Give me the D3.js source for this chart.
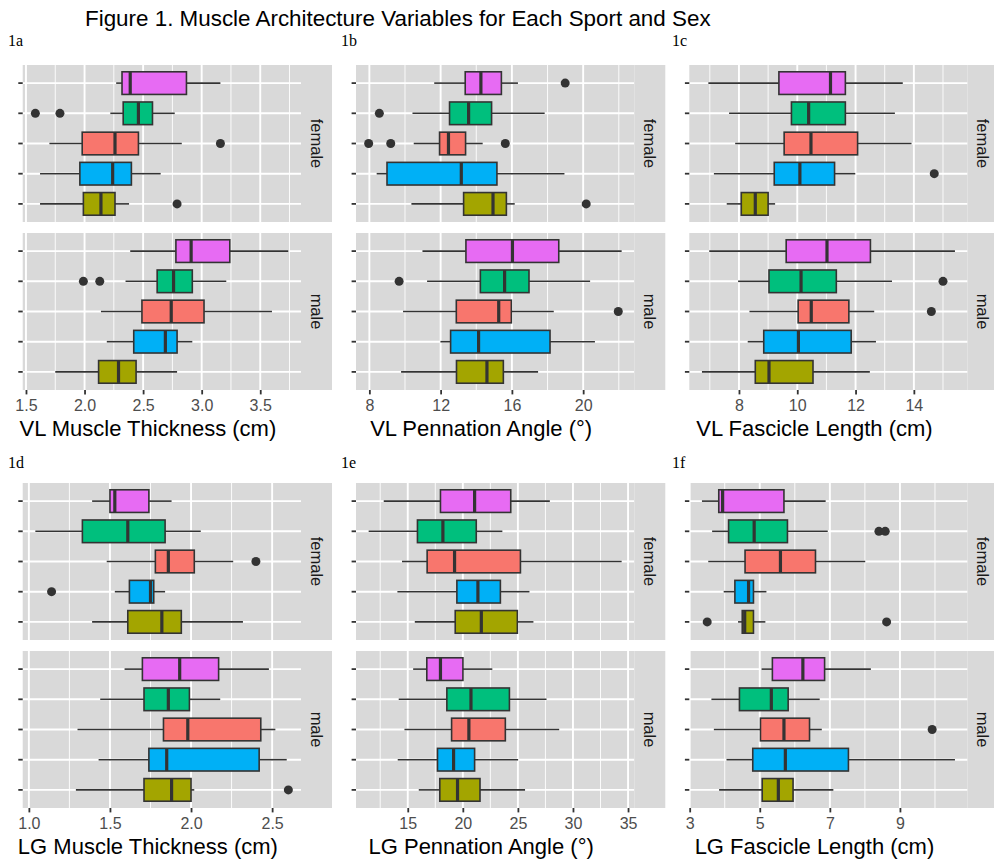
<!DOCTYPE html>
<html>
<head>
<meta charset="utf-8">
<script src="https://cdn.jsdelivr.net/npm/d3@7"></script>
<style>
  body { margin: 0; background: #ffffff; }
  svg { display: block; }
</style>
</head>
<body>
<svg id="chart" width="994" height="860"></svg>
<script>
// Sport groups, listed from the bottom row of each facet to the top row
const groups = ["G1", "G2", "G3", "G4", "G5"];
const groupFill = ["#A3A500", "#00B0F6", "#F8766D", "#00BF7D", "#E76BF3"];
const facets = ["female", "male"];

// Box summaries per group: [lower whisker, Q1, median, Q3, upper whisker]
// Outliers per group in the matching *Out arrays

// VL muscle thickness (cm)
const vlThickFemale = [[1.62, 1.99, 2.14, 2.26, 2.38], [1.62, 1.96, 2.24, 2.40, 2.65], [1.70, 1.98, 2.26, 2.46, 2.83], [2.22, 2.33, 2.46, 2.58, 2.77], [2.27, 2.32, 2.39, 2.87, 3.16]];
const vlThickFemaleOut = [[2.79], [], [3.16], [1.58, 1.79], []];
const vlThickMale = [[1.75, 2.12, 2.29, 2.44, 2.79], [2.19, 2.42, 2.69, 2.79, 2.92], [2.14, 2.49, 2.74, 3.02, 3.60], [2.35, 2.62, 2.76, 2.92, 3.21], [2.39, 2.78, 2.91, 3.24, 3.74]];
const vlThickMaleOut = [[], [], [], [1.99, 2.13], []];
const vlThickTicks = [1.5, 2.0, 2.5, 3.0, 3.5];

// VL pennation angle (degrees)
const vlPennFemale = [[10.36, 13.29, 14.94, 15.69, 16.16], [8.41, 8.99, 13.16, 15.16, 18.95], [10.49, 11.94, 12.44, 13.40, 14.36], [10.42, 12.50, 13.57, 14.86, 17.84], [11.64, 13.38, 14.26, 15.41, 16.34]];
const vlPennFemaleOut = [[20.17], [], [7.96, 9.20, 15.63], [8.56], [18.99]];
const vlPennMale = [[9.78, 12.89, 14.60, 15.52, 17.47], [11.99, 12.56, 14.13, 18.14, 20.66], [9.89, 12.88, 15.26, 15.97, 18.35], [11.24, 14.23, 15.59, 16.96, 20.39], [10.98, 13.42, 16.03, 18.63, 22.16]];
const vlPennMaleOut = [[], [], [21.97], [9.67], []];
const vlPennTicks = [8, 12, 16, 20];

// VL fascicle length (cm)
const vlFascFemale = [[7.58, 8.08, 8.56, 9.00, 9.24], [7.14, 9.21, 10.09, 11.28, 11.99], [7.87, 9.55, 10.47, 12.07, 13.92], [7.66, 9.80, 10.39, 11.65, 13.35], [6.95, 9.37, 11.14, 11.65, 13.62]];
const vlFascFemaleOut = [[], [14.70], [], [], []];
const vlFascMale = [[6.73, 8.56, 9.03, 10.54, 12.49], [8.30, 8.85, 10.04, 11.85, 12.70], [8.36, 10.03, 10.48, 11.77, 12.64], [7.97, 9.03, 10.13, 11.34, 13.25], [6.98, 9.62, 11.02, 12.51, 15.41]];
const vlFascMaleOut = [[], [], [14.60], [15.00], []];
const vlFascTicks = [8, 10, 12, 14];

// LG muscle thickness (cm)
const lgThickFemale = [[1.39, 1.61, 1.82, 1.94, 2.32], [1.53, 1.62, 1.75, 1.77, 1.84], [1.48, 1.78, 1.86, 2.02, 2.26], [1.04, 1.33, 1.61, 1.84, 2.06], [1.39, 1.50, 1.53, 1.74, 1.88]];
const lgThickFemaleOut = [[], [1.14], [2.40], [], []];
const lgThickMale = [[1.29, 1.71, 1.88, 2.00, 2.02], [1.43, 1.74, 1.85, 2.42, 2.59], [1.30, 1.83, 1.98, 2.43, 2.52], [1.44, 1.71, 1.86, 1.99, 2.18], [1.59, 1.70, 1.93, 2.17, 2.48]];
const lgThickMaleOut = [[2.60], [], [], [], []];
const lgThickTicks = [1.0, 1.5, 2.0, 2.5];

// LG pennation angle (degrees)
const lgPennFemale = [[15.64, 19.31, 21.68, 24.95, 26.41], [14.06, 19.46, 21.37, 23.41, 26.05], [14.48, 16.76, 19.25, 25.23, 34.42], [11.45, 15.88, 18.19, 21.22, 23.59], [12.82, 17.97, 21.07, 24.35, 27.90]];
const lgPennFemaleOut = [[], [], [], [], []];
const lgPennMale = [[16.00, 17.91, 19.52, 21.56, 25.65], [14.09, 17.70, 19.16, 21.07, 25.02], [14.70, 18.98, 20.55, 23.86, 28.75], [14.18, 18.55, 20.74, 24.23, 27.60], [15.49, 16.73, 17.97, 20.01, 22.68]];
const lgPennMaleOut = [[], [], [], [], []];
const lgPennTicks = [15, 20, 25, 30, 35];

// LG fascicle length (cm)
const lgFascFemale = [[4.38, 4.50, 4.57, 4.82, 5.16], [3.97, 4.29, 4.68, 4.82, 5.19], [3.53, 4.58, 5.59, 6.59, 8.01], [3.64, 4.11, 4.84, 5.79, 6.94], [3.35, 3.83, 3.94, 5.69, 6.88]];
const lgFascFemaleOut = [[3.50, 8.62], [], [], [8.40, 8.58], []];
const lgFascMale = [[3.84, 5.07, 5.53, 5.95, 7.10], [4.05, 4.80, 5.73, 7.53, 10.57], [3.69, 5.02, 5.69, 6.42, 6.77], [3.62, 4.42, 5.33, 5.81, 6.71], [5.05, 5.36, 6.23, 6.85, 8.17]];
const lgFascMaleOut = [[], [], [9.92], [], []];
const lgFascTicks = [3, 5, 7, 9];

const fmt1 = d3.format(".1f");
const fmt0 = d3.format("d");

const panels = [
  { tag: "1a", title: "VL Muscle Thickness (cm)", stats: [vlThickFemale, vlThickMale], outs: [vlThickFemaleOut, vlThickMaleOut], ticks: vlThickTicks, fmt: fmt1 },
  { tag: "1b", title: "VL Pennation Angle (°)", stats: [vlPennFemale, vlPennMale], outs: [vlPennFemaleOut, vlPennMaleOut], ticks: vlPennTicks, fmt: fmt0 },
  { tag: "1c", title: "VL Fascicle Length (cm)", stats: [vlFascFemale, vlFascMale], outs: [vlFascFemaleOut, vlFascMaleOut], ticks: vlFascTicks, fmt: fmt0 },
  { tag: "1d", title: "LG Muscle Thickness (cm)", stats: [lgThickFemale, lgThickMale], outs: [lgThickFemaleOut, lgThickMaleOut], ticks: lgThickTicks, fmt: fmt1 },
  { tag: "1e", title: "LG Pennation Angle (°)", stats: [lgPennFemale, lgPennMale], outs: [lgPennFemaleOut, lgPennMaleOut], ticks: lgPennTicks, fmt: fmt0 },
  { tag: "1f", title: "LG Fascicle Length (cm)", stats: [lgFascFemale, lgFascMale], outs: [lgFascFemaleOut, lgFascMaleOut], ticks: lgFascTicks, fmt: fmt0 }
];

// Layout
const colLeft = [22.7, 356, 689.3];
const panelW = 278.3;
const stripW = 31;
const rowTop = [65, 483];
const panelH = 157;
const facetGap = 11;
const tagX = [8, 341, 672];
const tagY = [46, 468];

const sans = "'Liberation Sans', Arial, Helvetica, sans-serif";
const serif = "'Liberation Serif', 'Times New Roman', serif";
const panelBg = "#D9D9D9";
const ink = "#333333";

const svg = d3.select("#chart");

svg.append("text")
  .attr("x", 85).attr("y", 26)
  .attr("font-family", sans).attr("font-size", 22.4)
  .attr("fill", "#000")
  .text("Figure 1. Muscle Architecture Variables for Each Sport and Sex");

panels.forEach((p, i) => {
  const col = i % 3, row = Math.floor(i / 3);
  const left = colLeft[col];
  const top = rowTop[row];

  // x range covers whiskers and outliers, expanded by 5% each side
  const vals = [];
  p.stats.forEach(s => s.forEach(d => vals.push(d[0], d[4])));
  p.outs.forEach(o => o.forEach(g => g.forEach(v => vals.push(v))));
  const [lo, hi] = d3.extent(vals);
  const pad = (hi - lo) * 0.05;
  const x = d3.scaleLinear().domain([lo - pad, hi + pad]).range([0, panelW]);

  const step = p.ticks[1] - p.ticks[0];
  const minor = d3.range(-3, p.ticks.length + 3)
    .map(k => p.ticks[0] + step * (k + 0.5))
    .filter(v => v >= x.domain()[0] && v <= x.domain()[1]);

  const y = d3.scalePoint().domain(groups).range([panelH, 0]).padding(0.6);
  const boxH = y.step() * 0.75;

  const g = svg.append("g").attr("transform", `translate(${left},0)`);

  g.append("text")
    .attr("x", tagX[col] - left).attr("y", tagY[row])
    .attr("font-family", serif).attr("font-size", 16)
    .attr("fill", "#000")
    .text(p.tag);

  facets.forEach((sex, f) => {
    const fy = top + f * (panelH + facetGap);
    const fg = g.append("g").attr("transform", `translate(0,${fy})`);

    fg.append("rect").attr("width", panelW).attr("height", panelH).attr("fill", panelBg);

    fg.selectAll("line.minor").data(minor).join("line")
      .attr("x1", d => x(d)).attr("x2", d => x(d))
      .attr("y1", 0).attr("y2", panelH)
      .attr("stroke", "#fff").attr("stroke-width", 0.9);

    fg.selectAll("line.major").data(p.ticks).join("line")
      .attr("x1", d => x(d)).attr("x2", d => x(d))
      .attr("y1", 0).attr("y2", panelH)
      .attr("stroke", "#fff").attr("stroke-width", 1.9);

    fg.selectAll("line.hgrid").data(groups).join("line")
      .attr("x1", 0).attr("x2", panelW)
      .attr("y1", d => y(d)).attr("y2", d => y(d))
      .attr("stroke", "#fff").attr("stroke-width", 1.9);

    // strip on the right
    fg.append("rect")
      .attr("x", panelW).attr("width", stripW).attr("height", panelH)
      .attr("fill", panelBg);
    fg.append("text")
      .attr("transform", `translate(${panelW + stripW / 2},${panelH / 2}) rotate(90)`)
      .attr("text-anchor", "middle").attr("dominant-baseline", "central")
      .attr("font-family", sans).attr("font-size", 16.5).attr("fill", "#1A1A1A")
      .text(sex);

    // y tick marks
    fg.selectAll("line.ytick").data(groups).join("line")
      .attr("x1", -4.4).attr("x2", 0)
      .attr("y1", d => y(d)).attr("y2", d => y(d))
      .attr("stroke", ink).attr("stroke-width", 1.8);

    const stats = p.stats[f];
    const outs = p.outs[f];

    const bg = fg.selectAll("g.box").data(groups).join("g")
      .attr("transform", d => `translate(0,${y(d)})`);

    bg.append("line")
      .attr("x1", (d, j) => x(stats[j][0])).attr("x2", (d, j) => x(stats[j][1]))
      .attr("stroke", ink).attr("stroke-width", 1.6);
    bg.append("line")
      .attr("x1", (d, j) => x(stats[j][3])).attr("x2", (d, j) => x(stats[j][4]))
      .attr("stroke", ink).attr("stroke-width", 1.6);
    bg.append("rect")
      .attr("x", (d, j) => x(stats[j][1]))
      .attr("width", (d, j) => x(stats[j][3]) - x(stats[j][1]))
      .attr("y", -boxH / 2).attr("height", boxH)
      .attr("fill", (d, j) => groupFill[j])
      .attr("stroke", ink).attr("stroke-width", 1.6);
    bg.append("line")
      .attr("x1", (d, j) => x(stats[j][2])).attr("x2", (d, j) => x(stats[j][2]))
      .attr("y1", -boxH / 2).attr("y2", boxH / 2)
      .attr("stroke", ink).attr("stroke-width", 3.2);
    bg.each(function (d, j) {
      d3.select(this).selectAll("circle").data(outs[j]).join("circle")
        .attr("cx", v => x(v)).attr("cy", 0).attr("r", 4.5)
        .attr("fill", ink);
    });

    if (f === 1) {
      const axis = d3.axisBottom(x).tickValues(p.ticks).tickFormat(p.fmt)
        .tickSize(4.4).tickPadding(5.5);
      const ag = fg.append("g").attr("transform", `translate(0,${panelH})`).call(axis);
      ag.select(".domain").remove();
      ag.selectAll(".tick line").attr("stroke", ink).attr("stroke-width", 1.8);
      ag.selectAll(".tick text")
        .attr("font-family", sans).attr("font-size", 16).attr("fill", "#4D4D4D");

      fg.append("text")
        .attr("x", panelW / 2 - 14).attr("y", panelH + 46)
        .attr("text-anchor", "middle")
        .attr("font-family", sans).attr("font-size", 22).attr("fill", "#000")
        .text(p.title);
    }
  });
});
</script>
</body>
</html>
